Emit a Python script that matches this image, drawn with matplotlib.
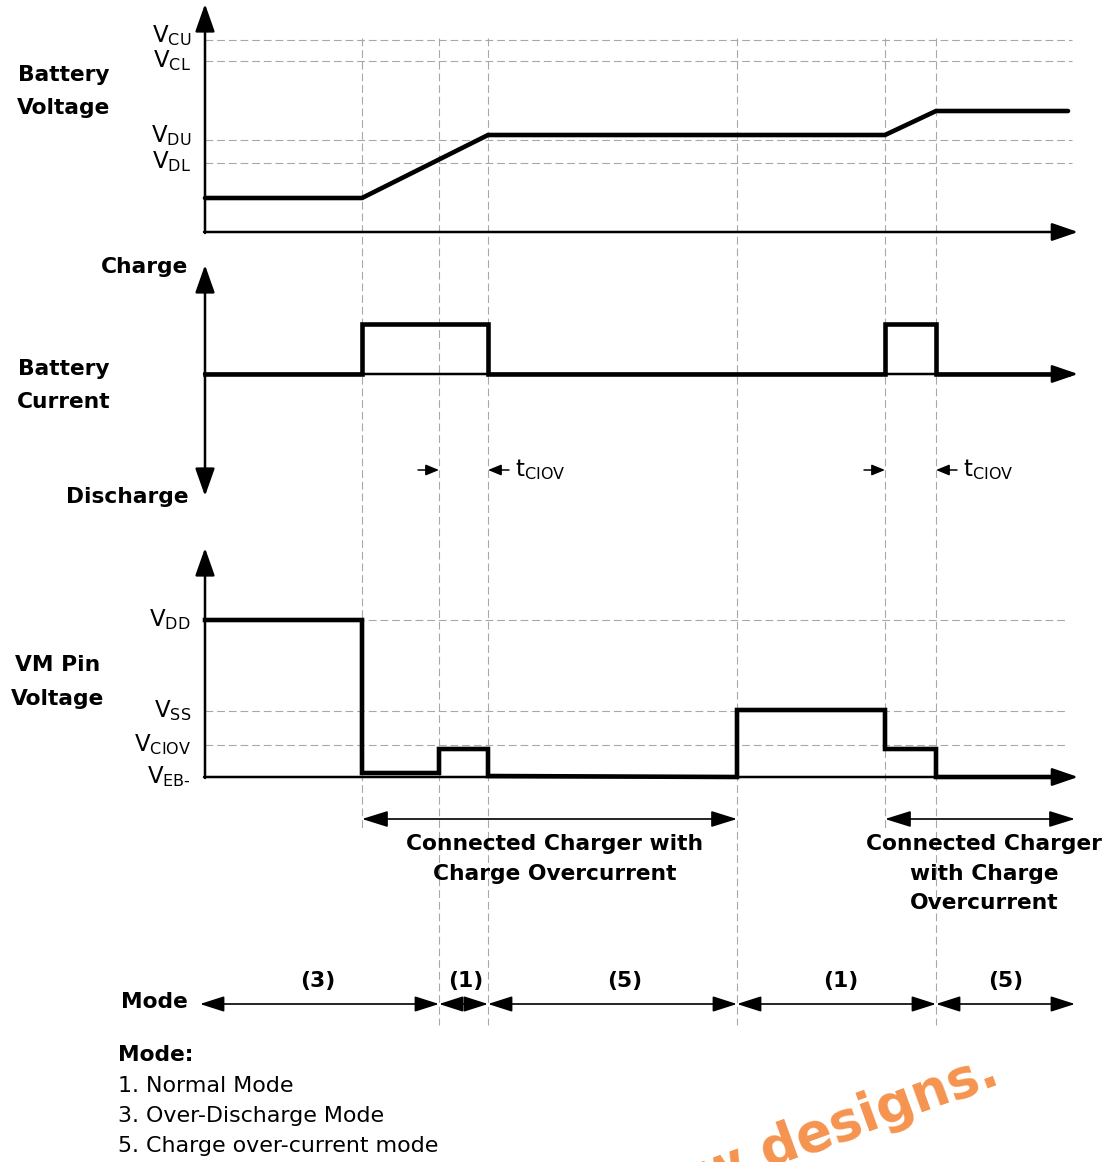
import matplotlib.pyplot as plt

# time instants of the events (diagram units, 0 = vertical axis)
t_events = [157, 234, 283, 532, 680, 731]
t_end = 863
t_tip = 873

# battery voltage
vbat_names = ["CU", "CL", "DU", "DL"]
vbat_thresholds = [192, 171, 92, 69]
vbat_t = [0, 157, 283, 680, 731, 863]
vbat_v = [34, 34, 97, 97, 121, 121]

# battery current (charge > 0)
ibat_t = [0, 157, 157, 283, 283, 680, 680, 731, 731, 863]
ibat_v = [0, 0, 50, 50, 0, 0, 50, 50, 0, 0]

# VM pin voltage
vm_names = ["DD", "SS", "CIOV", "EB\u2010"]
vm_levels = [157, 66, 32, 0]
vm_t = [0, 157, 157, 234, 234, 283, 283, 532, 532, 680, 680, 731, 731, 863]
vm_v = [157, 157, 4, 4, 28, 28, 1, 0, 67, 67, 28, 28, 0, 0]

# modes
mode_bounds = [0, 234, 283, 532, 731, 870]
mode_names = ["(3)", "(1)", "(5)", "(1)", "(5)"]
mode_label_t = [113, 261, 420, 636, 801]
mode_legend = ["1. Normal Mode", "3. Over-Discharge Mode", "5. Charge over-current mode"]

# overcurrent windows (start, end)
ciov_windows = [(234, 283), (680, 731)]

Y_VBAT = 232
Y_IBAT = 374
Y_VM = 777

FS = 15.7
GRID = dict(color="#a8a8a8", lw=0.8, dashes=(7, 3.5))


def arrow(ax, x0, y0, x1, y1, style="-|>", hl=16, hw=5.5, lw=1.8):
    ax.annotate("", xy=(x1, y1), xytext=(x0, y0),
                arrowprops=dict(arrowstyle=f"{style},head_length={hl},head_width={hw}",
                                lw=lw, color="black", shrinkA=0, shrinkB=0,
                                mutation_scale=1))


fig = plt.figure(figsize=(11.07, 11.62), dpi=100)
ax = fig.add_axes([0, 0, 1, 1])
ax.set_xlim(-205, 902)
ax.set_ylim(1162, 0)
ax.axis("off")

# vertical dashed event lines
for i, t in enumerate(t_events):
    bottom = 830 if i in (0, 4) else 1025
    ax.plot([t, t], [38, bottom], **GRID)

# ---- battery voltage
vbat_label_dy = [2, 6, 2, 5]
for name, lvl, dy in zip(vbat_names, vbat_thresholds, vbat_label_dy):
    ax.plot([0, 867], [Y_VBAT - lvl] * 2, **GRID)
    ax.text(-14, Y_VBAT - lvl + dy, r"$\mathregular{V_{%s}}$" % name,
            ha="right", va="baseline", fontsize=16.5)
arrow(ax, 0, Y_VBAT + 1, 0, 4, hl=17, hw=6)
arrow(ax, -1, Y_VBAT, t_tip, Y_VBAT, hl=16, hw=5.5)
ax.plot(vbat_t, [Y_VBAT - v for v in vbat_v], color="black", lw=3.3,
        solid_capstyle="round", solid_joinstyle="miter")
ax.text(-141, 75, "Battery", ha="center", va="center", fontsize=FS, fontweight="bold")
ax.text(-141, 108, "Voltage", ha="center", va="center", fontsize=FS, fontweight="bold")

# ---- battery current
arrow(ax, 0, Y_IBAT, 0, 265, hl=17, hw=6)
arrow(ax, 0, Y_IBAT, 0, 496, hl=17, hw=6)
arrow(ax, -1, Y_IBAT, t_tip, Y_IBAT, hl=16, hw=5.5)
ax.plot(ibat_t, [Y_IBAT - v for v in ibat_v], color="black", lw=3.3,
        solid_joinstyle="miter")
ax.text(-60, 267, "Charge", ha="center", va="center", fontsize=FS, fontweight="bold")
ax.text(-17, 497, "Discharge", ha="right", va="center", fontsize=FS, fontweight="bold")
ax.text(-141, 369, "Battery", ha="center", va="center", fontsize=FS, fontweight="bold")
ax.text(-141, 402, "Current", ha="center", va="center", fontsize=FS, fontweight="bold")

for t0, t1 in ciov_windows:
    arrow(ax, t0 - 21, 470, t0, 470, hl=8, hw=3.3, lw=1.1)
    arrow(ax, t1 + 21, 470, t1, 470, hl=8, hw=3.3, lw=1.1)
    ax.text(t1 + 27, 470, r"$\mathregular{t_{CIOV}}$", ha="left", va="center", fontsize=16.5)

# ---- VM pin voltage
for name, lvl in zip(vm_names, vm_levels):
    if lvl > 0:
        ax.plot([0, 863], [Y_VM - lvl] * 2, **GRID)
    ax.text(-14, Y_VM - lvl + 6, r"$\mathregular{V_{%s}}$" % name,
            ha="right", va="baseline", fontsize=16.5)
arrow(ax, 0, Y_VM + 1, 0, 548, hl=17, hw=6)
arrow(ax, -1, Y_VM, t_tip, Y_VM, hl=16, hw=5.5)
ax.plot(vm_t, [Y_VM - v for v in vm_v], color="black", lw=3.3,
        solid_joinstyle="miter")
ax.text(-147, 665, "VM Pin", ha="center", va="center", fontsize=FS, fontweight="bold")
ax.text(-147, 699, "Voltage", ha="center", va="center", fontsize=FS, fontweight="bold")

# connected charger spans
arrow(ax, t_events[0], 819, t_events[3], 819, style="<|-|>", hl=16, hw=5, lw=1.2)
arrow(ax, t_events[4], 819, 870, 819, style="<|-|>", hl=16, hw=5, lw=1.2)
ax.text(350, 844, "Connected Charger with", ha="center", va="center", fontsize=FS, fontweight="bold")
ax.text(350, 874, "Charge Overcurrent", ha="center", va="center", fontsize=FS, fontweight="bold")
ax.text(779, 844, "Connected Charger", ha="center", va="center", fontsize=FS, fontweight="bold")
ax.text(779, 874, "with Charge", ha="center", va="center", fontsize=FS, fontweight="bold")
ax.text(779, 903, "Overcurrent", ha="center", va="center", fontsize=FS, fontweight="bold")

# ---- mode row
ax.text(-51, 1002, "Mode", ha="center", va="center", fontsize=FS, fontweight="bold")
for i, name in enumerate(mode_names):
    a, b = mode_bounds[i], mode_bounds[i + 1]
    if i == 0:
        a = -5
    arrow(ax, a, 1004, b, 1004, style="<|-|>", hl=15, hw=4.8, lw=1.2)
    ax.text(mode_label_t[i], 981, name, ha="center", va="center", fontsize=FS, fontweight="bold")

ax.text(-87, 1055, "Mode:", ha="left", va="center", fontsize=FS, fontweight="bold")
for i, line in enumerate(mode_legend):
    ax.text(-87, 1086 + 30 * i, line, ha="left", va="center", fontsize=FS + 0.2)

# watermark
ax.text(797, 1083, "Not recommended for new designs.", rotation=20, rotation_mode="anchor",
        ha="right", va="baseline", fontsize=38, fontweight="bold", color="#F5944F")

fig.savefig("out.png", dpi=100)
